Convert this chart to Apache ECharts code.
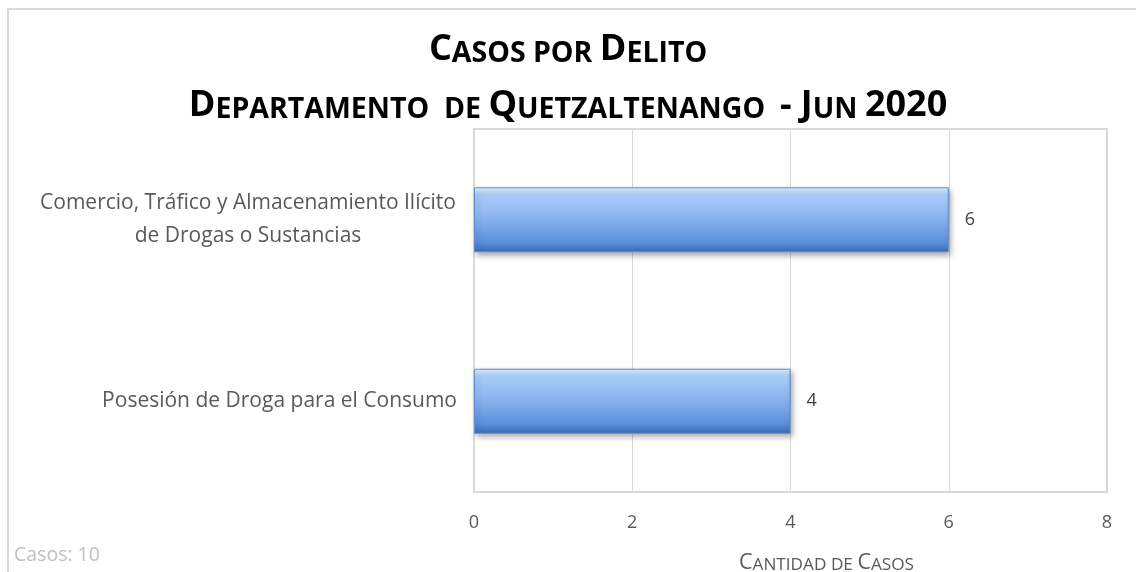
<!DOCTYPE html>
<html>
<head>
<meta charset="utf-8">
<script src="https://cdn.jsdelivr.net/npm/echarts@6/dist/echarts.min.js"></script>
<style>
html,body{margin:0;padding:0;background:#fff;}
#c{width:1136px;height:572px;}
</style>
</head>
<body>
<div id="c"></div>
<script>
const titleLine1 = 'Casos por Delito';
const titleLine2 = 'Departamento  de Quetzaltenango  - Jun 2020';
const axisName = 'Cantidad de Casos';
const footNote = 'Casos: 10';
const categories = ['Comercio, Tráfico y Almacenamiento Ilícito\nde Drogas o Sustancias', 'Posesión de Droga para el Consumo'];
const values = [6, 4];
const xTicks = [0, 2, 4, 6, 8];

const FONT = '"Open Sans", "Noto Sans", sans-serif';

function smallCaps(str, big, small) {
  let out = '';
  let run = '', runSmall = null;
  for (const ch of str) {
    const isSmall = ch !== ch.toUpperCase() || ch === ' ';
    const s = (ch === ' ') ? (runSmall === null ? true : runSmall) : isSmall;
    if (runSmall !== null && s !== runSmall) {
      out += '{' + (runSmall ? small : big) + '|' + run + '}';
      run = '';
    }
    runSmall = s;
    run += ch.toUpperCase();
  }
  if (run) out += '{' + (runSmall ? small : big) + '|' + run + '}';
  return out;
}

const chart = echarts.init(document.getElementById('c'));
const titleRich = {
  B: {fontFamily: FONT, fontWeight: 'bold', fontSize: 36, lineHeight: 56, color: '#000', verticalAlign: 'bottom'},
  S: {fontFamily: FONT, fontWeight: 'bold', fontSize: 28.5, lineHeight: 51, color: '#000', verticalAlign: 'bottom'}
};
chart.setOption({
  animation: false,
  title: [
    {
      text: smallCaps(titleLine1, 'B', 'S') + '\n' + smallCaps(titleLine2, 'B', 'S'),
      left: 'center', top: 12, padding: 0,
      textStyle: {rich: titleRich}
    },
    {
      text: footNote, left: 14, top: 545, padding: 0,
      textStyle: {fontFamily: FONT, fontSize: 19.5, fontWeight: 'normal', color: '#bfbfbf'}
    }
  ],
  graphic: [{
    type: 'rect', silent: true,
    shape: {x: 8, y: 9, width: 1300, height: 800},
    style: {fill: 'none', stroke: '#d9d9d9', lineWidth: 2}
  }],
  grid: {left: 474, right: 29, top: 129, bottom: 80, show: true, borderColor: '#d9d9d9', borderWidth: 2, containLabel: false, outerBoundsMode: 'none'},
  xAxis: {
    type: 'value', min: xTicks[0], max: xTicks[xTicks.length - 1], interval: xTicks[1] - xTicks[0],
    axisLine: {show: false}, axisTick: {show: false},
    splitLine: {show: true, lineStyle: {color: '#d9d9d9', width: 1}},
    axisLabel: {fontFamily: FONT, fontSize: 18, color: '#595959', margin: 22},
    name: smallCaps(axisName, 'b', 's'),
    nameLocation: 'middle', nameGap: 56,
    nameTextStyle: {
      padding: [0, 0, 0, 72],
      rich: {
        b: {fontFamily: FONT, fontSize: 21.5, color: '#595959', verticalAlign: 'bottom', lineHeight: 26},
        s: {fontFamily: FONT, fontSize: 17.2, color: '#595959', verticalAlign: 'bottom', lineHeight: 24}
      }
    }
  },
  yAxis: {
    type: 'category', data: categories, inverse: true,
    axisLine: {show: true, lineStyle: {color: '#d9d9d9', width: 2}}, axisTick: {show: false},
    axisLabel: {
      margin: 17,
      formatter: function (v) {
        const lines = v.split('\n');
        if (lines.length > 1) return lines.map(l => '{c|' + l + '}').join('\n');
        return '{r|' + v + '}';
      },
      rich: {
        c: {fontFamily: FONT, fontSize: 21, color: '#595959', width: 418, align: 'center', lineHeight: 33},
        r: {fontFamily: FONT, fontSize: 21, color: '#595959'}
      }
    }
  },
  series: [{
    type: 'bar', data: values, barWidth: 65,
    itemStyle: {
      color: new echarts.graphic.LinearGradient(0, 0, 0, 1, [
        {offset: 0, color: '#e2f3ff'},
        {offset: 0.12, color: '#a9cdfa'},
        {offset: 0.45, color: '#8db6f0'},
        {offset: 0.85, color: '#5a8fdb'},
        {offset: 1, color: '#3a6bb3'}
      ]),
      borderColor: '#5f8fd0', borderWidth: 1,
      shadowColor: 'rgba(0,0,0,0.35)', shadowBlur: 6, shadowOffsetX: 2, shadowOffsetY: 3
    },
    label: {show: true, position: 'right', distance: 16, fontFamily: FONT, fontSize: 18, color: '#404040'}
  }]
});
</script>
</body>
</html>
